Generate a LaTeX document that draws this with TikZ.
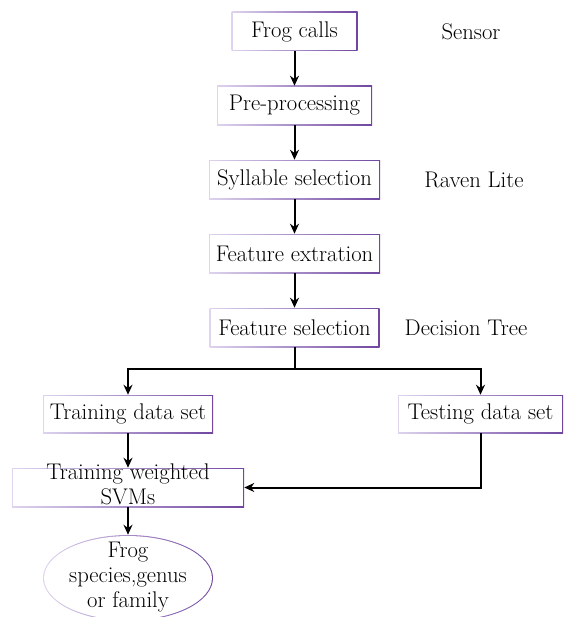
\documentclass[tikz,border=0pt]{standalone}
\usepackage{tikz}
\usetikzlibrary{shapes.geometric, arrows, arrows.meta, positioning}

\definecolor{edgelight}{RGB}{222,212,238}
\definecolor{edgedark}{RGB}{112,70,160}

% text that does not change the size of its node
\newcommand{\overtext}[1]{\makebox[0pt]{\smash{\raisebox{-0.25em}{\begin{tabular}{@{}c@{}}#1\end{tabular}}}}}

\begin{document}
\begin{tikzpicture}[x=0.75pt, y=-0.75pt, node distance=55.5pt, auto]
    \tikzstyle{stepbox} = [rectangle, minimum height=29.25pt, inner sep=1pt, text centered, fill=white,
        font=\fontsize{17}{18.75}\selectfont,
        path picture={
            \shade[left color=edgelight, right color=edgedark] (path picture bounding box.south west) rectangle (path picture bounding box.north east);
            \fill[white] ([shift={(0.8pt,0.8pt)}]path picture bounding box.south west) rectangle ([shift={(-0.8pt,-0.8pt)}]path picture bounding box.north east);
        }]
    \tikzstyle{outcome} = [ellipse, minimum width=127.5pt, minimum height=64.5pt, inner sep=0pt, fill=white,
        font=\fontsize{17}{18.75}\selectfont,
        path picture={
            \shade[left color=edgelight, right color=edgedark] (path picture bounding box.south west) rectangle (path picture bounding box.north east);
            \fill[white] (path picture bounding box.center) ellipse [x radius=62.95pt, y radius=31.45pt];
        }]
    \tikzstyle{note}    = [font=\fontsize{17}{18.75}\selectfont]
    \tikzstyle{arrow}   = [line width=1.5pt, ->, >={Stealth[length=7.5pt, width=6.75pt]}]

    \useasboundingbox (0,0) rectangle (564,617);

    % Main chain
    \node [stepbox, minimum width=94.5pt] (frog) at (294.5,31.5) {Frog calls};
    \node [stepbox, minimum width=116.25pt, below of=frog]   (preproc) {Pre-processing};
    \node [stepbox, minimum width=128.25pt, below of=preproc] (syllable) {Syllable selection};
    \node [stepbox, minimum width=128.25pt, below of=syllable] (extract) {Feature extration};
    \node [stepbox, minimum width=127.5pt, below of=extract]  (select)  {Feature selection};

    % Tools
    \node [note] (sensor) at (471,31.5)  {Sensor};
    \node [note] (raven)  at (474,179.5) {Raven Lite};
    \node [note] (dtree)  at (466,327.5) {Decision Tree};

    % Data sets
    \coordinate (fork) at (294.5,369);
    \node [stepbox, minimum width=127.5pt, minimum height=28.5pt] (train) at (128,414)   {Training data set};
    \node [stepbox, minimum width=123.75pt, minimum height=28.5pt] (test)  at (480.5,414) {Testing data set};

    % Classifier and result
    \node [stepbox, minimum width=174pt] (svm) at (128,487.5) {\overtext{Training weighted\\SVMs}};
    \node [outcome] (result) at (128,578) {\overtext{Frog\\species,genus\\or family}};

    % Arrows
    \draw [arrow] (frog)     -- (preproc);
    \draw [arrow] (preproc)  -- (syllable);
    \draw [arrow] (syllable) -- (extract);
    \draw [arrow] (extract)  -- (select);
    \draw [line width=1.5pt] (select) -- (fork);
    \draw [arrow] (fork) -| (train);
    \draw [arrow] (fork) -| (test);
    \draw [arrow] (train)    -- (svm);
    \draw [arrow] (test.south) |- (svm.east);
    \draw [arrow] (svm)      -- (result);

\end{tikzpicture}
\end{document}
